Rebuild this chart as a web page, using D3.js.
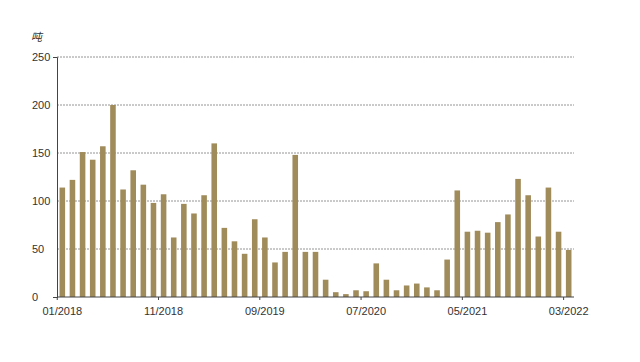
<!DOCTYPE html>
<html><head><meta charset="utf-8">
<script src="https://cdn.jsdelivr.net/npm/d3@7"></script>
<style>body{margin:0;background:#fff}svg{display:block}</style>
</head><body><svg id="c" width="640" height="362"></svg>
<script>
const months = [];
for (let yr = 2018; yr <= 2022; yr++) for (let m = 1; m <= 12; m++) {
  if (yr === 2022 && m > 3) break;
  months.push(String(m).padStart(2, "0") + "/" + yr);
}
const values = [114,122,151,143,157,200,112,132,117,98,107,62,97,87,106,160,
  72,58,45,81,62,36,47,148,47,47,18,5,3,7,6,35,18,7,12,14,10,7,39,
  111,68,69,67,78,86,123,106,63,114,68,49];
const tickLabels = ["01/2018","11/2018","09/2019","07/2020","05/2021","03/2022"];
const yTicks = [0,50,100,150,200,250];
const unit = "吨";

const svg = d3.select("#c");
const pL = 57, pR = 574, pT = 57, pB = 297;
const x = d3.scaleBand().domain(months).range([pL, pR]).paddingInner(0.45).paddingOuter(0.25);
const y = d3.scaleLinear().domain([0, 250]).range([pB, pT]);
const font = "'Liberation Sans', Arial, sans-serif";

// grid
svg.append("g").selectAll("line").data(yTicks.filter(d => d > 0)).join("line")
  .attr("x1", pL).attr("x2", pR).attr("y1", d => y(d)).attr("y2", d => y(d))
  .attr("stroke", "#7a7a7a").attr("stroke-width", 0.8).attr("stroke-dasharray", "2,1");

// bars
svg.append("g").selectAll("rect").data(values).join("rect")
  .attr("x", (d, i) => x(months[i])).attr("width", x.bandwidth())
  .attr("y", d => y(d)).attr("height", d => pB - y(d))
  .attr("fill", "#A08B5B");

// y axis
const ya = svg.append("g").attr("transform", `translate(${pL},0)`)
  .call(d3.axisLeft(y).tickValues(yTicks).tickSizeInner(0).tickSizeOuter(4).tickPadding(8));
ya.select(".domain").attr("stroke", "#444").attr("stroke-width", 1);
ya.selectAll("text").attr("font-family", font).attr("font-size", 11).attr("fill", "#333")
  .attr("text-anchor", "start").attr("x", 32 - pL);

// x axis
const xa = svg.append("g").attr("transform", `translate(0,${pB})`);
xa.append("line").attr("x1", pL).attr("x2", pR).attr("stroke", "#444").attr("stroke-width", 1);
xa.selectAll("line.t").data(tickLabels).join("line").attr("class", "t")
  .attr("x1", d => x(d) - (x.step() - x.bandwidth()) / 2).attr("x2", d => x(d) - (x.step() - x.bandwidth()) / 2)
  .attr("y1", 0).attr("y2", 3).attr("stroke", "#444");
xa.selectAll("text").data(tickLabels).join("text")
  .attr("x", d => x(d) + x.bandwidth() / 2).attr("y", 18)
  .attr("text-anchor", "middle").attr("font-family", font).attr("font-size", 11).attr("fill", "#333")
  .text(d => d);

svg.append("text").attr("x", 31).attr("y", 41).attr("font-family", "'Noto Sans CJK SC', sans-serif")
  .attr("font-size", 11).attr("font-style", "italic").attr("fill", "#333").text(unit);
</script></body></html>
